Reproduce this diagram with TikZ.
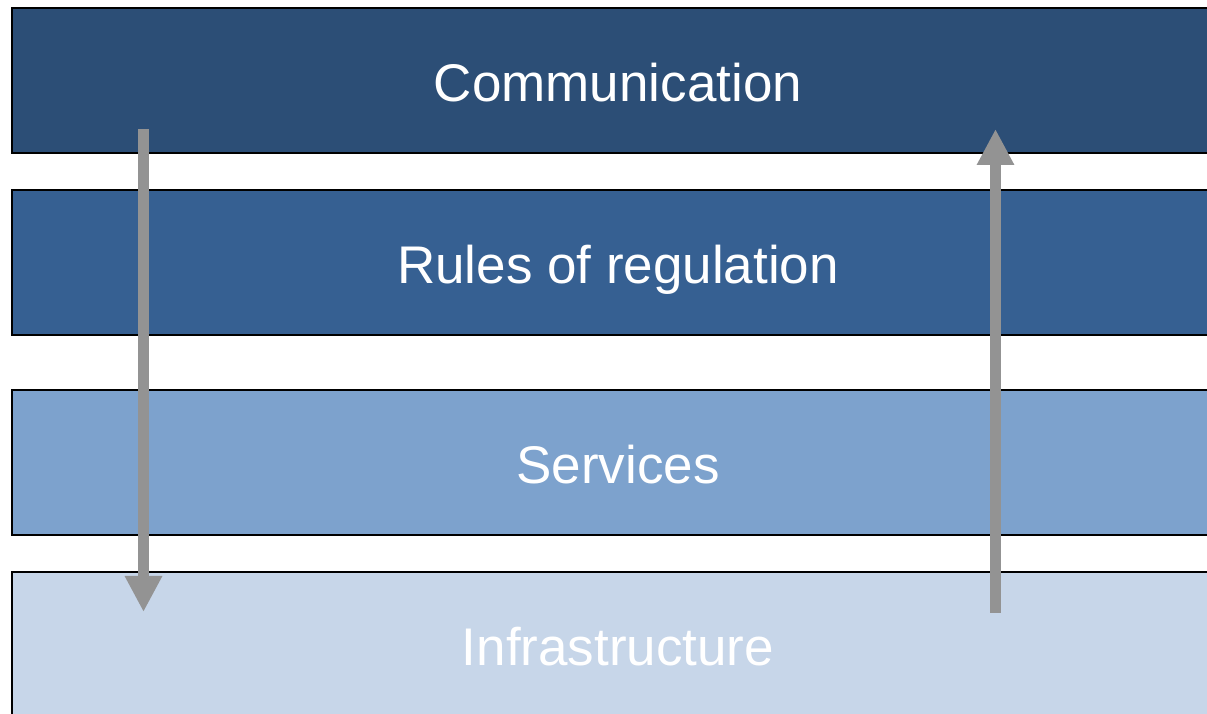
\documentclass[tikz,border=0pt]{standalone}
\usepackage{fontspec}
\setmainfont{Liberation Sans}
\usetikzlibrary{
  positioning,
  arrows.meta
}
\definecolor{commBlue}{HTML}{2C4E76}
\definecolor{rulesBlue}{HTML}{366092}
\definecolor{servicesBlue}{HTML}{7DA2CD}
\definecolor{infraBlue}{HTML}{C7D6E9}
\definecolor{arrowGray}{HTML}{939393}

\begin{document}
\begin{tikzpicture}[
    x=1pt,y=1pt,node distance=37pt,
    layerNode/.style={draw,line width=2pt,outer sep=0pt,minimum width=1212pt,minimum height=145pt,text=white,text height=42pt,text depth=0pt,font=\fontsize{53}{60}\selectfont},
    flowArrow/.style={draw=arrowGray,line width=11pt,-{Triangle[length=36pt,width=35pt]}}
  ]
    \useasboundingbox (0,0) rectangle (1207,714);

    % layers
    \node[layerNode,fill=commBlue] (communication) at (618,633.5) {Communication};
    \node[layerNode,fill=rulesBlue,below=of communication] (rules) {Rules of regulation};
    \node[layerNode,fill=servicesBlue,below=55pt of rules] (services) {Services};
    \node[layerNode,fill=infraBlue,below=of services] (infrastructure) {Infrastructure};

    % flow arrows
    \coordinate (down start) at (143.5,585);
    \coordinate (down end) at (143.5,102);
    \coordinate (up start) at (995.5,101);
    \coordinate (up end) at (995.5,585);

    \draw[flowArrow] (down start) -- (down end);
    \draw[flowArrow] (up start) -- (up end);
  \end{tikzpicture}
\end{document}
